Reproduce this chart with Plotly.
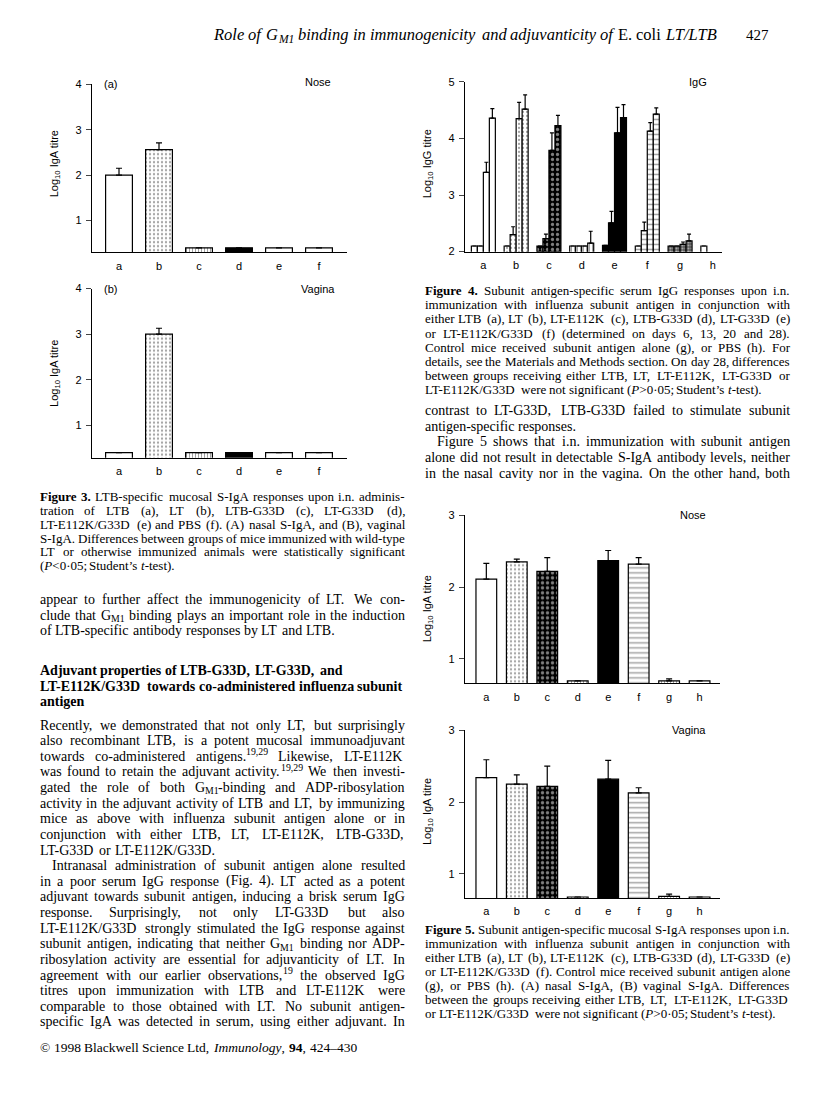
import re
import plotly.graph_objects as go

fig3_groups = ['a', 'b', 'c', 'd', 'e', 'f']
fig3_nose = [2.0, 2.56, 0.4, 0.4, 0.4, 0.4]
fig3_nose_err = [0.15, 0.15, 0, 0, 0, 0]
fig3_vagina = [0.4, 3.0, 0.4, 0.4, 0.4, 0.4]
fig3_vagina_err = [0, 0.13, 0, 0, 0, 0]

# figura 4: IgG no soro nos dias 6, 13, 20 e 28
fig4_groups = ['a', 'b', 'c', 'd', 'e', 'f', 'g', 'h']
fig4_days = ['day 6', 'day 13', 'day 20', 'day 28']
fig4_day6 = [2.1, 2.1, 2.1, 2.1, 2.11, 2.1, 2.1, 2.1]
fig4_day13 = [2.1, 2.3, 2.23, 2.1, 2.51, 2.37, 2.1, None]
fig4_day20 = [3.40, 4.35, 3.79, 2.1, 4.10, 4.13, 2.13, None]
fig4_day28 = [4.36, 4.52, 4.23, 2.15, 4.37, 4.43, 2.19, None]
fig4_day6_err = [0, 0, 0, 0, 0, 0, 0, 0]
fig4_day13_err = [0, 0.14, 0.08, 0, 0.20, 0.15, 0, 0]
fig4_day20_err = [0.18, 0.29, 0.31, 0, 0.45, 0.15, 0.04, 0]
fig4_day28_err = [0.17, 0.25, 0.18, 0.21, 0.23, 0.11, 0.12, 0]

# figura 5: S-IgA especifica para o antigeno
fig5_groups = ['a', 'b', 'c', 'd', 'e', 'f', 'g', 'h']
fig5_nose = [2.11, 2.35, 2.22, 0.69, 2.37, 2.32, 0.69, 0.69]
fig5_nose_err = [0.22, 0.04, 0.19, 0, 0.14, 0.09, 0.03, 0]
fig5_vagina = [2.34, 2.25, 2.22, 0.68, 2.32, 2.13, 0.69, 0.68]
fig5_vagina_err = [0.25, 0.13, 0.28, 0, 0.26, 0.07, 0.03, 0]

# a pagina tem 816x1097; o body do html tem margem de 8px
W, H, M = 800, 1081, 8
SERIF = 'Liberation Serif'
SANS = 'Liberation Sans'


def px(x):
    return (x - M) / W


def py(y):
    return 1 - (y - M) / H


# estilos de preenchimento
STY = {
    'open': dict(color='white', shape='', fg='black', bg='white', size=4, sol=0.3),
    'dots': dict(color='white', shape='.', fg='black', bg='white', size=4, sol=0.25),
    'check': dict(color='black', shape='.', fg='white', bg='black', size=5, sol=0.35),
    'vert': dict(color='white', shape='|', fg='black', bg='white', size=3, sol=0.35),
    'black': dict(color='black', shape='', fg='black', bg='black', size=4, sol=0.3),
    'horiz': dict(color='white', shape='-', fg='black', bg='white', size=5, sol=0.3),
    'dark': dict(color='#555', shape='.', fg='black', bg='#555', size=3, sol=0.4),
}


def marker(styles):
    s = [STY[k] for k in styles]
    return dict(
        color=[d['color'] for d in s],
        line=dict(color='black', width=1.2),
        pattern=dict(shape=[d['shape'] for d in s], fgcolor=[d['fg'] for d in s],
                     bgcolor=[d['bg'] for d in s], size=[d['size'] for d in s],
                     solidity=[d['sol'] for d in s], fillmode='overlay'),
    )


def errbar(err, w=3):
    return dict(type='data', array=err, arrayminus=[0] * len(err), symmetric=False,
                color='black', thickness=1.2, width=w)


fig = go.Figure()

fig3_style = ['open', 'dots', 'vert', 'black', 'open', 'open']
fig4_style = ['open', 'dots', 'check', 'vert', 'black', 'horiz', 'dark', 'open']
fig5_style = ['open', 'dots', 'check', 'vert', 'black', 'horiz', 'vert', 'open']

x3 = list(range(len(fig3_groups)))
x5 = list(range(len(fig5_groups)))
x4 = list(range(len(fig4_groups)))

fig.add_trace(go.Bar(x=x3, y=fig3_nose, width=0.67, marker=marker(fig3_style),
                     error_y=errbar(fig3_nose_err), xaxis='x', yaxis='y'))
fig.add_trace(go.Bar(x=x3, y=fig3_vagina, width=0.67, marker=marker(fig3_style),
                     error_y=errbar(fig3_vagina_err), xaxis='x2', yaxis='y2'))

bw = 0.183
for i, (vals, err) in enumerate([(fig4_day6, fig4_day6_err), (fig4_day13, fig4_day13_err),
                                 (fig4_day20, fig4_day20_err), (fig4_day28, fig4_day28_err)]):
    fig.add_trace(go.Bar(x=x4, y=vals, width=bw, offset=-2 * bw + i * bw, name=fig4_days[i],
                         marker=marker(fig4_style), error_y=errbar(err, 2),
                         xaxis='x3', yaxis='y3'))

fig.add_trace(go.Bar(x=x5, y=fig5_nose, width=0.68, marker=marker(fig5_style),
                     error_y=errbar(fig5_nose_err), xaxis='x4', yaxis='y4'))
fig.add_trace(go.Bar(x=x5, y=fig5_vagina, width=0.68, marker=marker(fig5_style),
                     error_y=errbar(fig5_vagina_err), xaxis='x5', yaxis='y5'))

tickfont = dict(family=SANS, size=11, color='black')


def xax(dom, rng, groups, anchor):
    return dict(domain=dom, range=rng, anchor=anchor, showline=True, linecolor='black',
                linewidth=1.2, ticks='', tickvals=list(range(len(groups))), ticktext=groups,
                tickfont=tickfont, showgrid=False, zeroline=False, ticklabelstandoff=3)


def yax(dom, rng, vals, anchor):
    return dict(domain=dom, range=rng, anchor=anchor, showline=True, linecolor='black',
                linewidth=1.2, ticks='outside', ticklen=5, tickwidth=1.2, tickvals=vals,
                tickfont=tickfont, showgrid=False, zeroline=False, ticklabelstandoff=2)


fig.update_layout(
    width=W, height=H, margin=dict(l=0, r=0, t=0, b=0), showlegend=False,
    paper_bgcolor='white', plot_bgcolor='rgba(0,0,0,0)', barmode='overlay',
    xaxis=xax([px(92), px(347)], [-0.675, 5.7], fig3_groups, 'y'),
    yaxis=yax([py(249), py(79)], [0.3, 4.0], [1, 2, 3, 4], 'x'),
    xaxis2=xax([px(92), px(347)], [-0.675, 5.7], fig3_groups, 'y2'),
    yaxis2=yax([py(456.7), py(285.7)], [0.29, 4.0], [1, 2, 3, 4], 'x2'),
    xaxis3=xax([px(465), px(721.7)], [-0.56, 7.27], fig4_groups, 'y3'),
    yaxis3=yax([py(248.3), py(76.7)], [2, 5], [2, 3, 4, 5], 'x3'),
    xaxis4=xax([px(465), px(720)], [-0.70, 7.67], fig5_groups, 'y4'),
    yaxis4=yax([py(685), py(515)], [0.655, 3], [1, 2, 3], 'x4'),
    xaxis5=xax([px(465), px(720)], [-0.70, 7.67], fig5_groups, 'y5'),
    yaxis5=yax([py(902), py(732.3)], [0.665, 3], [1, 2, 3], 'x5'),
)


def txt(x, y, s, size, family=SERIF, anchor='left', angle=0):
    fig.add_annotation(x=px(x), y=py(y), xref='paper', yref='paper', text=s, showarrow=False,
                       xanchor=anchor, yanchor='middle', textangle=angle, borderpad=0,
                       borderwidth=0, font=dict(family=family, size=size, color='black'))


# rotulos dos graficos
ytitle_iga = 'Log<sub>10</sub> IgA titre'
txt(55, 160, ytitle_iga, 11, SANS, 'center', -90)
txt(55, 372, ytitle_iga, 11, SANS, 'center', -90)
txt(428, 160, 'Log<sub>10</sub> IgG titre', 11, SANS, 'center', -90)
txt(428, 610, ytitle_iga, 11, SANS, 'center', -90)
txt(428, 815, ytitle_iga, 11, SANS, 'center', -90)
txt(110, 79, '(a)', 11, SANS, 'center')
txt(110, 286, '(b)', 11, SANS, 'center')
txt(318, 77, 'Nose', 11, SANS, 'center')
txt(318, 286, 'Vagina', 11, SANS, 'center')
txt(698, 77, 'IgG', 11, SANS, 'center')
txt(693, 515, 'Nose', 11, SANS, 'center')
txt(689, 732, 'Vagina', 11, SANS, 'center')

# larguras aproximadas dos caracteres Times (1/1000 em) para justificar as linhas
REG = dict(zip('ABCDEFGHIJKLMNOPQRSTUVWXYZ',
               [722, 667, 667, 722, 611, 556, 722, 722, 333, 389, 722, 611, 889,
                722, 722, 556, 722, 667, 556, 611, 722, 722, 944, 722, 722, 611]))
REG.update(zip('abcdefghijklmnopqrstuvwxyz',
               [444, 500, 444, 500, 444, 333, 500, 500, 278, 278, 500, 278, 778,
                500, 500, 500, 500, 333, 389, 278, 500, 500, 722, 500, 500, 444]))
REG.update({' ': 250, ',': 250, '.': 250, '-': 333, '(': 333, ')': 333, '/': 278,
            ';': 278, ':': 278, '’': 333, '·': 250, '<': 564, '>': 564, '–': 500,
            '©': 760})
BOLD = dict(REG)
BOLD.update(zip('ABCDEFGHIJKLMNOPQRSTUVWXYZ',
                [722, 667, 722, 722, 667, 611, 778, 778, 389, 500, 778, 667, 944,
                 722, 778, 611, 778, 722, 556, 667, 722, 722, 1000, 722, 722, 667]))
BOLD.update(zip('abcdefghijklmnopqrstuvwxyz',
                [500, 556, 444, 556, 444, 333, 500, 556, 278, 333, 556, 278, 833,
                 556, 500, 556, 556, 444, 389, 333, 556, 500, 722, 500, 500, 444]))


def text_width(s, size):
    w, bold = 0.0, False
    for t in re.split(r'(<[^>]+>)', s):
        if t.startswith('<'):
            if t.strip('</>').lower() == 'b':
                bold = not t.startswith('</')
            continue
        t = t.replace('&lt;', '<').replace('&gt;', '>')
        table = BOLD if bold else REG
        for ch in t:
            w += table.get(ch, 500) * size / 1000
    return w


def word(x, y, s, size):
    # indices e subscritos viram textos menores proprios, a linha de base fica igual
    for p in re.split(r'(<su[pb]>.*?</su[pb]>)', s):
        if not p:
            continue
        if p.startswith('<sup>') or p.startswith('<sub>'):
            inner, small = p[5:-6], size * 0.7
            dy = -0.33 * size if p.startswith('<sup>') else 0.25 * size
            txt(x, y + dy, inner, small)
            x += text_width(inner, small)
        else:
            txt(x, y, p, size)
            x += text_width(p, size)
    return x


def line(s, x0, x1, y, size, justify):
    words = s.split(' ')
    widths = []
    for w in words:
        parts = re.split(r'(<su[pb]>.*?</su[pb]>)', w)
        widths.append(sum(text_width(p[5:-6], size * 0.7) if p.startswith('<su') else
                          text_width(p, size) for p in parts if p))
    gap = 0.25 * size
    if justify and len(words) > 1:
        gap = (x1 - x0 - sum(widths)) / (len(words) - 1)
    x = x0
    for w, wd in zip(words, widths):
        word(x, y, w, size)
        x += wd + gap


# cabecalho
header = ('<i>Role</i> <i>of</i> <i>G</i><sub><i>M1</i></sub> <i>binding</i> <i>in</i> '
          '<i>immunogenicity</i> <i>and</i> <i>adjuvanticity</i> <i>of</i> E. coli '
          '<i>LT/LTB</i>')
line(header, 213, 717, 29, 16.5, False)
txt(757, 29, '427', 15, SERIF, 'center')

# textos da pagina
cap3 = [
    '<b>Figure</b> <b>3.</b> LTB-specific mucosal S-IgA responses upon i.n. adminis-',
    'tration of LTB (a), LT (b), LTB-G33D (c), LT-G33D (d),',
    'LT-E112K/G33D (e) and PBS (f). (A) nasal S-IgA, and (B), vaginal',
    'S-IgA. Differences between groups of mice immunized with wild-type',
    'LT or otherwise immunized animals were statistically significant',
    '(<i>P</i>&lt;0·05; Student’s <i>t</i>-test).',
]
par1 = [
    'appear to further affect the immunogenicity of LT. We con-',
    'clude that G<sub>M1</sub> binding plays an important role in the induction',
    'of LTB-specific antibody responses by LT and LTB.',
]
head = [
    '<b>Adjuvant</b> <b>properties</b> <b>of</b> <b>LTB-G33D,</b> <b>LT-G33D,</b> <b>and</b>',
    '<b>LT-E112K/G33D</b> <b>towards</b> <b>co-administered</b> <b>influenza</b> <b>subunit</b>',
    '<b>antigen</b>',
]
body1 = [
    'Recently, we demonstrated that not only LT, but surprisingly',
    'also recombinant LTB, is a potent mucosal immunoadjuvant',
    'towards co-administered antigens.<sup>19,29</sup> Likewise, LT-E112K',
    'was found to retain the adjuvant activity.<sup>19,29</sup> We then investi-',
    'gated the role of both G<sub>M1</sub>-binding and ADP-ribosylation',
    'activity in the adjuvant activity of LTB and LT, by immunizing',
    'mice as above with influenza subunit antigen alone or in',
    'conjunction with either LTB, LT, LT-E112K, LTB-G33D,',
    'LT-G33D or LT-E112K/G33D.',
    'Intranasal administration of subunit antigen alone resulted',
    'in a poor serum IgG response (Fig. 4). LT acted as a potent',
    'adjuvant towards subunit antigen, inducing a brisk serum IgG',
    'response. Surprisingly, not only LT-G33D but also',
    'LT-E112K/G33D strongly stimulated the IgG response against',
    'subunit antigen, indicating that neither G<sub>M1</sub> binding nor ADP-',
    'ribosylation activity are essential for adjuvanticity of LT. In',
    'agreement with our earlier observations,<sup>19</sup> the observed IgG',
    'titres upon immunization with LTB and LT-E112K were',
    'comparable to those obtained with LT. No subunit antigen-',
    'specific IgA was detected in serum, using either adjuvant. In',
]
cap4 = [
    '<b>Figure</b> <b>4.</b> Subunit antigen-specific serum IgG responses upon i.n.',
    'immunization with influenza subunit antigen in conjunction with',
    'either LTB (a), LT (b), LT-E112K (c), LTB-G33D (d), LT-G33D (e)',
    'or LT-E112K/G33D (f) (determined on days 6, 13, 20 and 28).',
    'Control mice received subunit antigen alone (g), or PBS (h). For',
    'details, see the Materials and Methods section. On day 28, differences',
    'between groups receiving either LTB, LT, LT-E112K, LT-G33D or',
    'LT-E112K/G33D were not significant (<i>P</i>&gt;0·05; Student’s <i>t</i>-test).',
]
body2 = [
    'contrast to LT-G33D, LTB-G33D failed to stimulate subunit',
    'antigen-specific responses.',
    'Figure 5 shows that i.n. immunization with subunit antigen',
    'alone did not result in detectable S-IgA antibody levels, neither',
    'in the nasal cavity nor in the vagina. On the other hand, both',
]
cap5 = [
    '<b>Figure</b> <b>5.</b> Subunit antigen-specific mucosal S-IgA responses upon i.n.',
    'immunization with influenza subunit antigen in conjunction with',
    'either LTB (a), LT (b), LT-E112K (c), LTB-G33D (d), LT-G33D (e)',
    'or LT-E112K/G33D (f). Control mice received subunit antigen alone',
    '(g), or PBS (h). (A) nasal S-IgA, (B) vaginal S-IgA. Differences',
    'between the groups receiving either LTB, LT, LT-E112K, LT-G33D',
    'or LT-E112K/G33D were not significant (<i>P</i>&gt;0·05; Student’s <i>t</i>-test).',
]


def block(lines, x0, x1, y0, step, size, ragged=(), indent=()):
    for i, s in enumerate(lines):
        line(s, x0 + (12 if i in indent else 0), x1, y0 + i * step, size, i not in ragged)


block(cap3, 40, 405, 496, 14, 13, ragged=(5,))
block(par1, 40, 405, 600, 15.8, 14, ragged=(2,))
block(head, 40, 405, 672, 15.8, 14, ragged=(0, 1, 2))
block(body1, 40, 405, 727, 15.8, 14, ragged=(8,), indent=(9,))
line('© 1998 Blackwell Science Ltd, <i>Immunology</i>, <b>94</b>, 424–430', 40, 405, 1053, 13.5, False)
block(cap4, 425, 790, 288, 14.2, 13, ragged=(7,))
block(body2, 425, 790, 409, 15.8, 14, ragged=(1,), indent=(2,))
block(cap5, 425, 790, 934, 14.2, 13, ragged=(6,))

fig.write_html('out.html')
